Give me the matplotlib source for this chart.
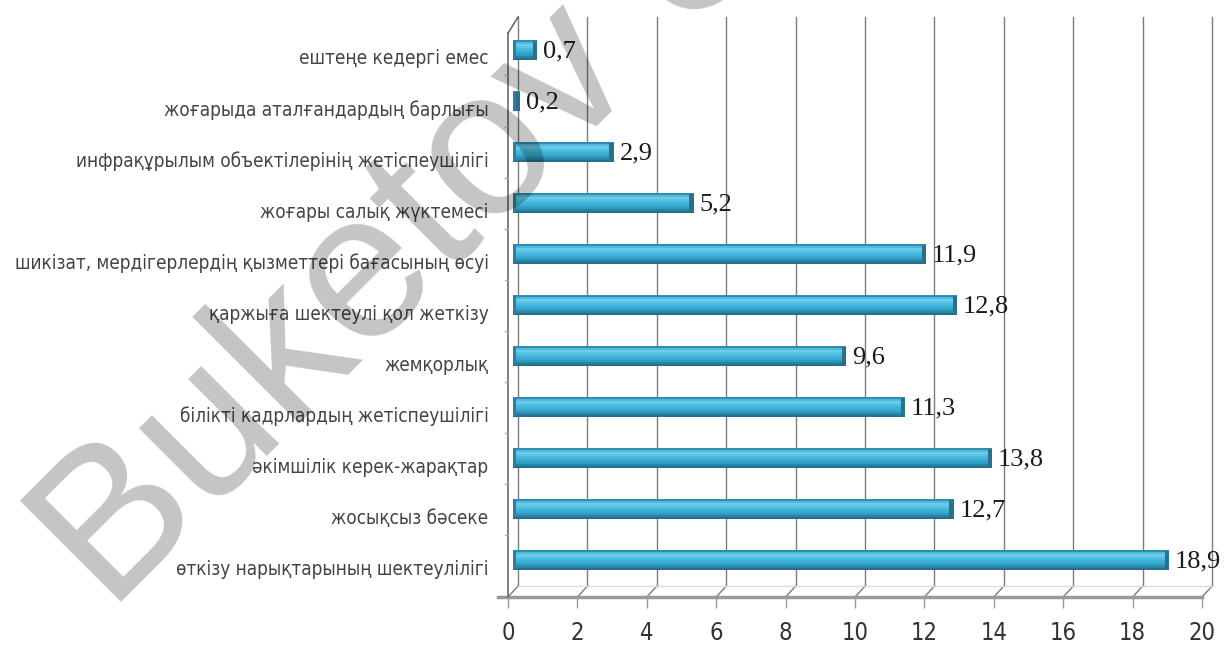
import matplotlib
matplotlib.use("Agg")
import matplotlib.pyplot as plt
import matplotlib.transforms as mtransforms
import numpy as np

# categories from top to bottom as in the picture
labels = ["ештеңе кедергі емес",
          "жоғарыда аталғандардың барлығы",
          "инфрақұрылым объектілерінің жетіспеушілігі",
          "жоғары салық жүктемесі",
          "шикізат, мердігерлердің қызметтері бағасының өсуі",
          "қаржыға шектеулі қол жеткізу",
          "жемқорлық",
          "білікті кадрлардың жетіспеушілігі",
          "әкімшілік керек-жарақтар",
          "жосықсыз бәсеке",
          "өткізу нарықтарының шектеулілігі"]
values = [0.7, 0.2, 2.9, 5.2, 11.9, 12.8, 9.6, 11.3, 13.8, 12.7, 18.9]
xticks = [0, 2, 4, 6, 8, 10, 12, 14, 16, 18, 20]

# bottom category at y=0
labels = labels[::-1]
values = np.array(values[::-1])
ypos = np.arange(len(values))

W, H = 1226, 660
fig = plt.figure(figsize=(W / 100, H / 100), dpi=100)
ax = fig.add_axes([508 / W, 1 - 597 / H, (1202 - 508) / W, (597 - 17) / H])
ax.set_xlim(0, 20)
ax.set_ylim(-0.725, 10.647)

# 3d look: back wall shifted right/up
dx = 0.29      # ~10 px
yb = -0.51     # back edge of floor
gcol = "#7c7c7c"
for v in xticks:
    ax.plot([v + dx, v + dx], [yb, 10.647], color=gcol, lw=1.0, zorder=1, clip_on=False)
    ax.plot([v, v + dx], [-0.725, yb], color=gcol, lw=1.0, zorder=1, clip_on=False)
# floor
ax.plot([-0.3, 20], [-0.725, -0.725], color="#9a9a9a", lw=2.5, zorder=2, clip_on=False)
ax.plot([dx, 20 + dx], [yb, yb], color="#dcdcdc", lw=1.0, zorder=1, clip_on=False)
# left wall front edge
ax.plot([0, 0], [-0.725, 10.33], color="#6a6a6a", lw=1.2, zorder=2, clip_on=False)
ax.plot([0, dx], [10.33, 10.647], color="#6a6a6a", lw=1.2, zorder=2, clip_on=False)
for y in ypos[:-1] + 0.5:
    ax.plot([-0.1, -0.03], [y, y], color="#b0b0b0", lw=1.0, zorder=2, clip_on=False)

# cylinder-like bars, shaded in horizontal slices
x0 = 0.15
h = 0.40
shade = ["#23708e", "#2a83a5", "#3299bf", "#38a9d0", "#3db3d9",
         "#49bade", "#5cc4e4", "#6ccbe7", "#4fbadd", "#2f8db1"]
n = len(shade)
for i, c in enumerate(shade):
    yc = ypos - h / 2 + (i + 0.5) * h / n
    ax.barh(yc, values, height=h / n * 1.05, left=x0, color=c, lw=0, zorder=3)
cap = np.minimum(values, 0.13)
ax.barh(ypos, cap, height=h * 0.92, left=x0 + values - cap, color="#2b6f8a", lw=0, zorder=5)
ax.barh(ypos, np.minimum(values, 0.07), height=h * 0.92, left=x0, color="#2f7e9c", lw=0, zorder=5)

for y, v in zip(ypos, values):
    ax.annotate(f"{v:.1f}".replace(".", ","), (x0 + v, y), xytext=(4, -1),
                textcoords="offset points", ha="left", va="center",
                fontsize=19, family="Liberation Serif", color="#1a1a1a", zorder=6)

ax.set_xticks(xticks)
ax.set_xticklabels([str(t) for t in xticks], fontsize=17, family="DejaVu Sans",
                   fontstretch="condensed", color="#333333")
ax.tick_params(axis="x", length=8, width=1, color="#9a9a9a", pad=9)
ax.set_yticks(ypos)
ax.set_yticklabels(labels, fontsize=13.6, family="DejaVu Sans",
                   fontstretch="condensed", color="#444444")
ax.tick_params(axis="y", length=0, pad=14)
off = mtransforms.ScaledTranslation(0, -7 / 100, fig.dpi_scale_trans)
for t in ax.get_yticklabels():
    t.set_transform(t.get_transform() + off)
for s in ax.spines.values():
    s.set_visible(False)

# watermark
fig.text(110 / W, 1 - 614 / H, "Buketov U", rotation=45, rotation_mode="anchor",
         ha="left", va="baseline", fontsize=150, family="Liberation Sans",
         color="black", alpha=0.23, zorder=10)

fig.savefig("out.png", dpi=100)
